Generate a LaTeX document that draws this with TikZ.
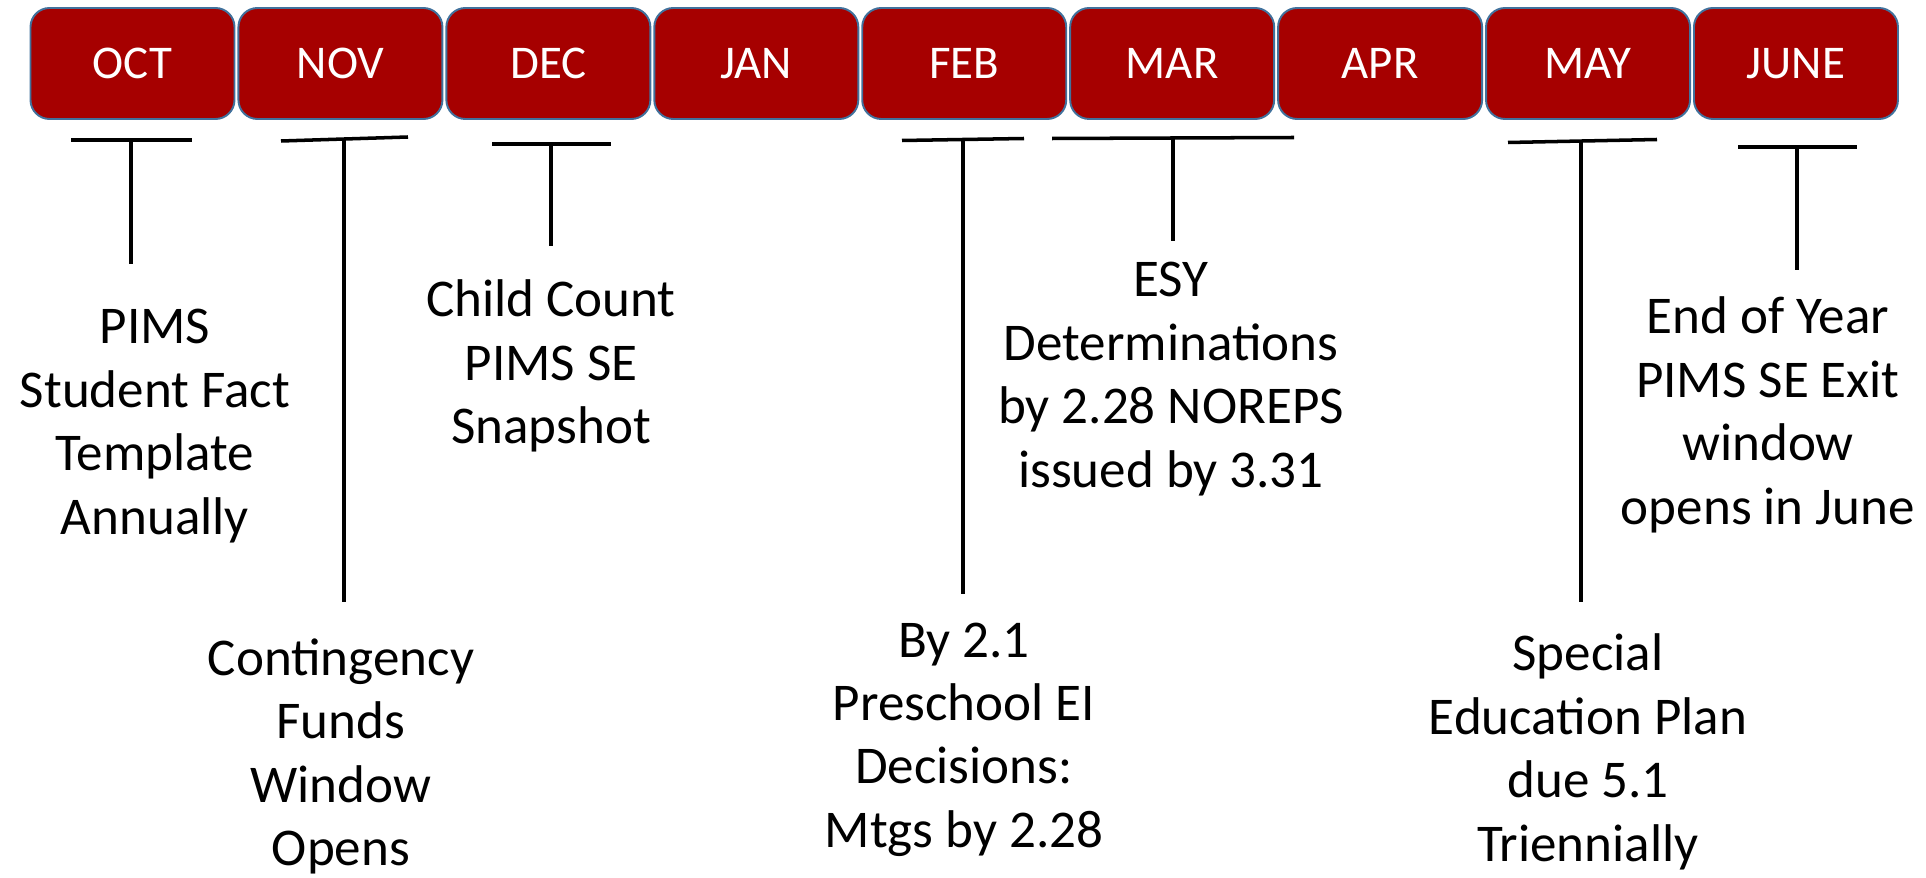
\documentclass[tikz,border=0pt]{standalone}
\usepackage{fontspec}
\setmainfont{Carlito}
\usetikzlibrary{positioning}
\definecolor{monthRed}{RGB}{166,0,0}
\definecolor{monthEdge}{RGB}{65,113,156}

\begin{document}
\begin{tikzpicture}[
    month/.style={draw=monthEdge, line width=1.1pt, fill=monthRed, rounded corners=0.38cm, minimum width=4.08cm, minimum height=2.22cm, text=white, font=\fontsize{26.7}{32}\selectfont},
    note/.style={align=center, inner sep=0pt, font=\fontsize{30.2}{36.1}\selectfont},
    stem/.style={line width=2pt, black},
    node distance=0.04cm]
    \useasboundingbox (0,0) rectangle (38.52,-17.56);
            % Months
            \node[month] (oct) at (2.65,-1.27) {OCT};
            \node[month, right=of oct] (nov) {NOV};
            \node[month, right=of nov] (dec) {DEC};
            \node[month, right=of dec] (jan) {JAN};
            \node[month, right=of jan] (feb) {FEB};
            \node[month, right=of feb] (mar) {MAR};
            \node[month, right=of mar] (apr) {APR};
            \node[month, right=of apr] (may) {MAY};
            \node[month, right=of may] (june) {JUNE};

            % October
            \coordinate (octBar) at (2.62,-2.80);
            \coordinate (octEnd) at (2.62,-5.28);
            \draw[stem] (1.42,-2.80) -- (3.84,-2.80);
            \draw[stem] (octBar) -- (octEnd);
            \node[note] (octNote) at (3.10,-8.52) {PIMS \\ Student Fact \\ Template \\ Annually};

            % November
            \coordinate (novBar) at (6.88,-2.78);
            \coordinate (novEnd) at (6.88,-12.04);
            \draw[stem] (5.62,-2.82) -- (8.16,-2.74);
            \draw[stem] (novBar) -- (novEnd);
            \node[note] (novNote) at (6.82,-15.13) {Contingency \\ Funds \\ Window \\ Opens};

            % December
            \coordinate (decBar) at (11.02,-2.88);
            \coordinate (decEnd) at (11.02,-4.92);
            \draw[stem] (9.84,-2.88) -- (12.22,-2.88);
            \draw[stem] (decBar) -- (decEnd);
            \node[note] (decNote) at (11.02,-7.32) {Child Count \\ PIMS SE \\ Snapshot};

            % February
            \coordinate (febBar) at (19.26,-2.79);
            \coordinate (febEnd) at (19.26,-11.88);
            \draw[stem] (18.04,-2.81) -- (20.48,-2.77);
            \draw[stem] (febBar) -- (febEnd);
            \node[note] (febNote) at (19.28,-14.79) {By 2.1 \\ Preschool EI \\ Decisions: \\ Mtgs by 2.28};

            % March
            \coordinate (marBar) at (23.46,-2.76);
            \coordinate (marEnd) at (23.46,-4.82);
            \draw[stem] (21.04,-2.77) -- (25.88,-2.75);
            \draw[stem] (marBar) -- (marEnd);
            \node[note] (marNote) at (23.42,-7.58) {ESY \\ Determinations \\ by 2.28 NOREPS \\ issued by 3.31};

            % May
            \coordinate (mayBar) at (31.62,-2.82);
            \coordinate (mayEnd) at (31.62,-12.04);
            \draw[stem] (30.16,-2.85) -- (33.14,-2.79);
            \draw[stem] (mayBar) -- (mayEnd);
            \node[note] (mayNote) at (31.76,-15.04) {Special \\ Education Plan \\ due 5.1 \\ Triennially};

            % June
            \coordinate (juneBar) at (35.94,-2.94);
            \coordinate (juneEnd) at (35.94,-5.40);
            \draw[stem] (34.76,-2.94) -- (37.14,-2.94);
            \draw[stem] (juneBar) -- (juneEnd);
            \node[note] (juneNote) at (35.36,-8.30) {End of Year \\ PIMS SE Exit \\ window \\ opens in June};
\end{tikzpicture}
\end{document}
